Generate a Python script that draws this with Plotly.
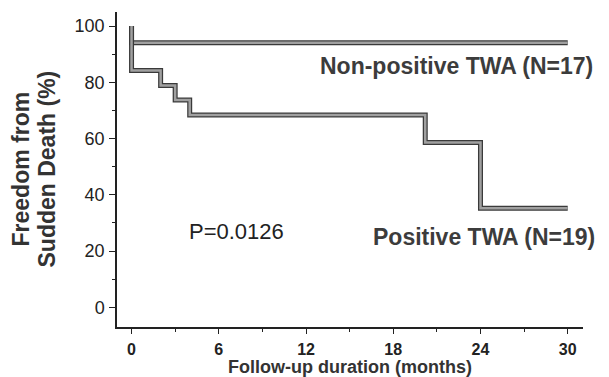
import plotly.graph_objects as go

# Kaplan-Meier data (months, % freedom from sudden death)
nonpos_time = [0, 0, 30]
nonpos_surv = [100, 94.1, 94.1]
pos_time = [0, 0, 2, 3, 4, 20.2, 24, 30]
pos_surv = [100, 84.2, 78.9, 73.7, 68.4, 58.6, 35.2, 35.2]

x_ticks = [0, 6, 12, 18, 24, 30]
y_ticks = [0, 20, 40, 60, 80, 100]

label_nonpos = "Non-positive TWA (N=17)"
label_pos = "Positive TWA (N=19)"
p_text = "P=0.0126"

fig = go.Figure()
for t, s in [(nonpos_time, nonpos_surv), (pos_time, pos_surv)]:
    fig.add_trace(go.Scatter(x=t, y=s, mode="lines", line=dict(shape="hv", color="#3a3a3a", width=5),
                             hoverinfo="skip", showlegend=False))
    fig.add_trace(go.Scatter(x=t, y=s, mode="lines", line=dict(shape="hv", color="#a0a0a0", width=2.5),
                             hoverinfo="skip", showlegend=False))

font_main = "Liberation Sans, Arial, sans-serif"
L, R, T, B = 117, 26, 12, 50
PW, PH = 609 - L - R, 377 - T - B


def px(xp):
    return (xp - L) / PW


def py(yp):
    return (377 - B - yp) / PH


fig.update_layout(
    width=609, height=377,
    margin=dict(l=L, r=R, t=T, b=B),
    paper_bgcolor="white", plot_bgcolor="white",
    font=dict(family=font_main, color="#222"),
    xaxis=dict(range=[-1, 31.05], tickvals=x_ticks, ticktext=[f"<b>{v}</b>" for v in x_ticks],
               automargin=False,
               showgrid=False, zeroline=False, showline=True, linecolor="#222", linewidth=1.5,
               ticks="outside", ticklen=5, tickcolor="#222", tickfont=dict(size=16, color="#222"),
               ticklabelstandoff=2,
               minor=dict(dtick=3, tick0=0, ticks="outside", ticklen=3, tickcolor="#222", showgrid=False)),
    yaxis=dict(range=[-7, 105], tickvals=y_ticks, automargin=False,
               showgrid=False, zeroline=False, showline=True, linecolor="#222", linewidth=1.5,
               ticks="outside", ticklen=6, tickcolor="#222", tickfont=dict(size=18, color="#222"),
               ticklabelstandoff=1,
               minor=dict(dtick=10, tick0=0, ticks="outside", ticklen=3, tickcolor="#222", showgrid=False)),
)

ann_font = dict(family=font_main, size=23, color="#3c3c3c")
fig.add_annotation(x=px(595), y=py(66), xref="paper", yref="paper", text=f"<b>{label_nonpos}</b>",
                   showarrow=False, xanchor="right", yanchor="middle", font=ann_font)
fig.add_annotation(x=px(597), y=py(237), xref="paper", yref="paper", text=f"<b>{label_pos}</b>",
                   showarrow=False, xanchor="right", yanchor="middle", font=ann_font)
fig.add_annotation(x=px(236), y=py(231), xref="paper", yref="paper", text=p_text, showarrow=False,
                   xanchor="center", yanchor="middle", font=dict(family=font_main, size=22, color="#222"))

# x-axis title
fig.add_annotation(x=0.5, y=py(367), xref="paper", yref="paper", text="<b>Follow-up duration (months)</b>",
                   showarrow=False, xanchor="center", yanchor="middle",
                   font=dict(family=font_main, size=18, color="#333"))

# y-axis title as two rotated lines
fig.add_annotation(x=px(20), y=0.5, xref="paper", yref="paper", text="<b>Freedom from</b>",
                   showarrow=False, textangle=-90, xanchor="center", yanchor="middle",
                   font=dict(family=font_main, size=23, color="#333"))
fig.add_annotation(x=px(46), y=0.5, xref="paper", yref="paper", text="<b>Sudden Death (%)</b>",
                   showarrow=False, textangle=-90, xanchor="center", yanchor="middle",
                   font=dict(family=font_main, size=23, color="#333"))

fig.write_html("out.html", config={"displayModeBar": False},
               post_script="document.body.style.margin='0';document.body.style.overflow='hidden';")
